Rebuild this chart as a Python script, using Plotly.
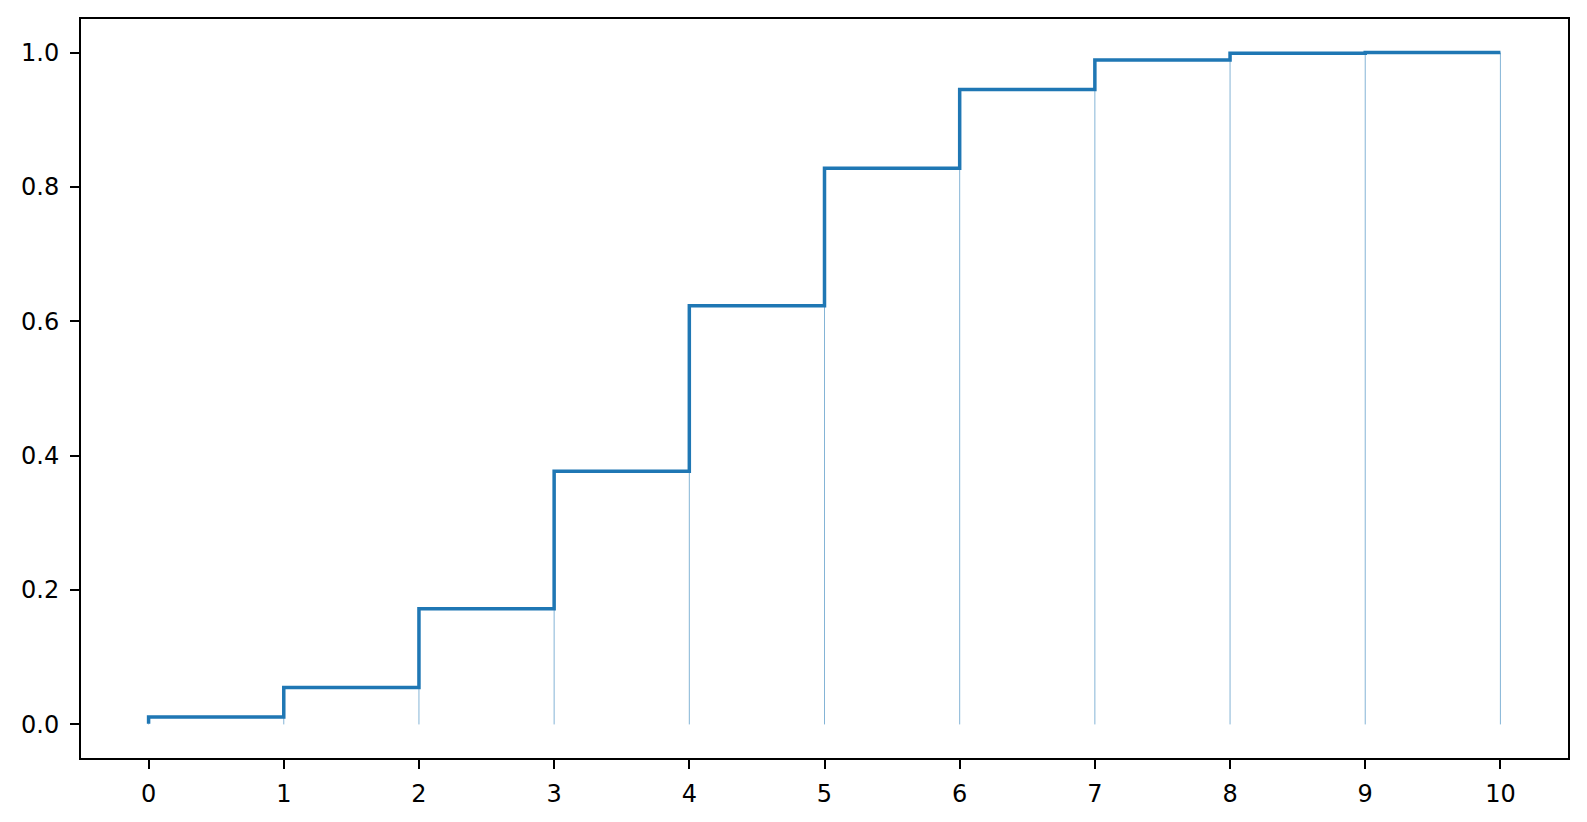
import plotly.graph_objects as go

x_vals = [0, 1, 2, 3, 4, 5, 6, 7, 8, 9, 10]
cdf_vals = [0.001, 0.011, 0.055, 0.172, 0.377, 0.623, 0.828, 0.945, 0.989, 0.999, 1.0]
x_ticks = [0, 1, 2, 3, 4, 5, 6, 7, 8, 9, 10]
y_ticks = [0.0, 0.2, 0.4, 0.6, 0.8, 1.0]

color = "#1f77b4"

vx, vy = [], []
for xv, yv in zip(x_vals, cdf_vals):
    vx += [xv, xv, None]
    vy += [0, yv, None]

fig = go.Figure()
fig.add_trace(go.Scatter(x=vx, y=vy, mode="lines",
                         line=dict(color="rgba(31,119,180,0.55)", width=1),
                         hoverinfo="skip", showlegend=False))
fig.add_trace(go.Scatter(x=x_vals, y=cdf_vals, mode="lines",
                         line=dict(color=color, width=3.5, shape="vh"),
                         showlegend=False))

axis_common = dict(showline=True, linecolor="black", linewidth=2, mirror=True,
                   ticks="outside", ticklen=9, tickwidth=2, tickcolor="black",
                   showgrid=False, zeroline=False,
                   tickfont=dict(family="DejaVu Sans", size=24, color="black"))

fig.update_xaxes(range=[-0.5, 10.5], tickvals=x_ticks, ticklabelstandoff=4, **axis_common)
fig.update_yaxes(range=[-0.05, 1.05], tickvals=y_ticks, tickformat=".1f",
                 ticklabelstandoff=6, **axis_common)

fig.update_layout(width=1587, height=822,
                  margin=dict(l=81, r=19, t=19, b=64, pad=0),
                  plot_bgcolor="white", paper_bgcolor="white")

fig.write_html("out.html", config={"displayModeBar": False},
               post_script="document.body.style.margin='0';")
